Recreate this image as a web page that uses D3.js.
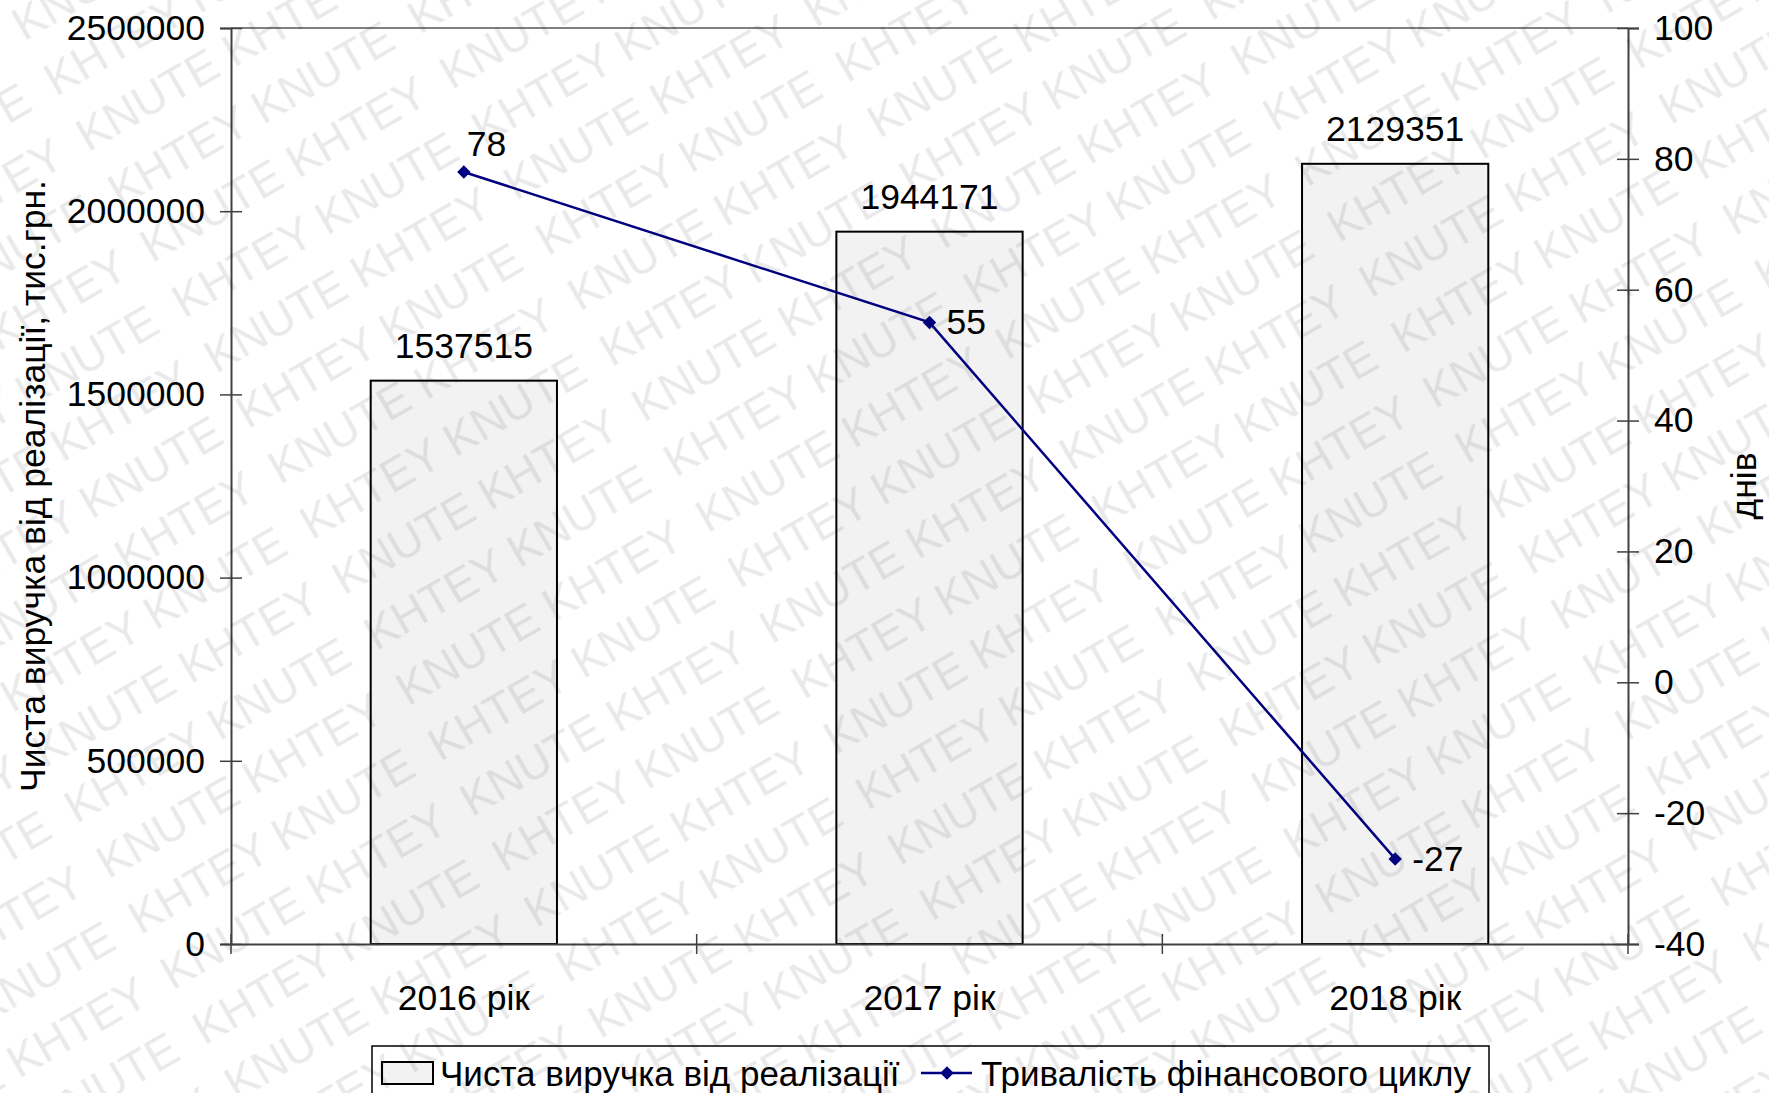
<!DOCTYPE html>
<html>
<head>
<meta charset="utf-8">
<script src="https://cdn.jsdelivr.net/npm/d3@7"></script>
<style>
html,body{margin:0;padding:0;background:#fff;}
svg{display:block;font-family:"Liberation Sans",Arial,sans-serif;}
</style>
</head>
<body>
<svg id="chart" width="1769" height="1093"></svg>
<script>
const categories = ["2016 рік", "2017 рік", "2018 рік"];
const revenue = [1537515, 1944171, 2129351];
const cycleDays = [78, 55, -27];
const leftTicks = [0, 500000, 1000000, 1500000, 2000000, 2500000];
const rightTicks = [-40, -20, 0, 20, 40, 60, 80, 100];
const seriesNames = ["Чиста виручка від реалізації", "Тривалість фінансового циклу"];
const leftTitle = "Чиста виручка від реалізації, тис.грн.";
const rightTitle = "днів";
const watermarkWords = ["KNUTE", "KHTEY"];

const W = 1769, H = 1093;
const m = {left: 231, right: 1628, top: 28, bottom: 944};
const svg = d3.select("#chart");
const FS = 35.5;
const fmt = d => String(d);

const x = d3.scaleBand().domain(categories).range([m.left, m.right]).paddingInner(0).paddingOuter(0);
const yL = d3.scaleLinear().domain([0, 2500000]).range([m.bottom, m.top]);
const yR = d3.scaleLinear().domain([-40, 100]).range([m.bottom, m.top]);

// top border
svg.append("line").attr("x1", m.left).attr("x2", m.right).attr("y1", m.top).attr("y2", m.top)
  .attr("stroke", "#808080").attr("stroke-width", 2);

// bars
const bw = x.bandwidth();
svg.append("g").selectAll("rect").data(revenue).join("rect")
  .attr("x", (d, i) => x(categories[i]) + bw * 0.3)
  .attr("width", bw * 0.4)
  .attr("y", d => yL(d))
  .attr("height", d => yL(0) - yL(d))
  .attr("fill", "#f2f2f2").attr("stroke", "#000").attr("stroke-width", 2);

svg.append("g").selectAll("text").data(revenue).join("text")
  .attr("x", (d, i) => x(categories[i]) + bw / 2)
  .attr("y", d => yL(d) - 23)
  .attr("text-anchor", "middle").attr("font-size", FS).attr("fill", "#000")
  .text(fmt);

// axes
const axL = svg.append("g").attr("transform", `translate(${m.left},0)`)
  .call(d3.axisLeft(yL).tickValues(leftTicks).tickFormat(fmt).tickSize(11).tickPadding(15));
const axR = svg.append("g").attr("transform", `translate(${m.right},0)`)
  .call(d3.axisRight(yR).tickValues(rightTicks).tickFormat(fmt).tickSize(11).tickPadding(15));
const axB = svg.append("g").attr("transform", `translate(0,${m.bottom})`)
  .call(d3.axisBottom(x).tickSize(0).tickPadding(41));
[axL, axR, axB].forEach(a => {
  a.select(".domain").attr("stroke", "#404040").attr("stroke-width", 2);
  a.selectAll(".tick line").attr("stroke", "#404040").attr("stroke-width", 1.5);
  a.selectAll(".tick text").attr("font-size", FS).attr("fill", "#000")
    .attr("font-family", "Liberation Sans, Arial, sans-serif");
});
axL.selectAll(".tick line").attr("x1", 11);
axR.selectAll(".tick line").attr("x1", -11);
// category separator ticks
const sepX = categories.map(c => x(c)).concat([m.right]);
svg.append("g").selectAll("line").data(sepX).join("line")
  .attr("x1", d => d).attr("x2", d => d)
  .attr("y1", m.bottom - 10).attr("y2", m.bottom + 10)
  .attr("stroke", "#404040").attr("stroke-width", 1.5);

// line series
const pts = cycleDays.map((v, i) => [x(categories[i]) + bw / 2, yR(v)]);
svg.append("path").attr("d", d3.line()(pts))
  .attr("fill", "none").attr("stroke", "#000080").attr("stroke-width", 2.5);
const diamond = d3.symbol().type(d3.symbolSquare).size(90);
svg.append("g").selectAll("path").data(pts).join("path")
  .attr("transform", d => `translate(${d[0]},${d[1]}) rotate(45)`)
  .attr("d", diamond).attr("fill", "#000080");
svg.append("g").selectAll("text").data(cycleDays).join("text")
  .attr("x", (d, i) => pts[i][0] + (i === 0 ? 3 : 17))
  .attr("y", (d, i) => pts[i][1] + (i === 0 ? -16 : 12))
  .attr("font-size", FS).attr("fill", "#000")
  .text(fmt);

// axis titles
svg.append("text")
  .attr("transform", `translate(45,${(m.top + m.bottom) / 2}) rotate(-90)`)
  .attr("text-anchor", "middle").attr("font-size", FS).attr("fill", "#000")
  .text(leftTitle);
svg.append("text")
  .attr("transform", `translate(1756,${(m.top + m.bottom) / 2}) rotate(-90)`)
  .attr("text-anchor", "middle").attr("font-size", FS).attr("fill", "#000")
  .text(rightTitle);

// legend
const LFS = 35;
const lg = svg.append("g");
lg.append("rect").attr("x", 372).attr("y", 1046).attr("width", 1117).attr("height", 70)
  .attr("fill", "#fff").attr("stroke", "#000").attr("stroke-width", 1.5);
lg.append("rect").attr("x", 382).attr("y", 1062).attr("width", 51).attr("height", 22)
  .attr("fill", "#f2f2f2").attr("stroke", "#000").attr("stroke-width", 2);
lg.append("text").attr("x", 440).attr("y", 1086).attr("font-size", LFS).attr("fill", "#000").text(seriesNames[0]);
lg.append("line").attr("x1", 921).attr("x2", 972).attr("y1", 1073).attr("y2", 1073)
  .attr("stroke", "#000080").attr("stroke-width", 2.5);
lg.append("path").attr("transform", "translate(947,1073) rotate(45)").attr("d", diamond).attr("fill", "#000080");
lg.append("text").attr("x", 981).attr("y", 1086).attr("font-size", LFS).attr("fill", "#000").text(seriesNames[1]);

// watermark as a repeating pattern overlay
const WFS = 46, ROW = 64;
const defs = svg.append("defs");
const pat = defs.append("pattern").attr("id", "wm").attr("patternUnits", "userSpaceOnUse")
  .attr("patternTransform", "rotate(-30)");
const t1 = pat.append("text").attr("x", 0).attr("y", ROW * 0.75)
  .attr("font-size", WFS).attr("fill", "#000").attr("fill-opacity", 0.085)
  .text(watermarkWords.join(" ") + " ");
const t2 = pat.append("text").attr("x", 0).attr("y", ROW * 1.75)
  .attr("font-size", WFS).attr("fill", "#000").attr("fill-opacity", 0.085)
  .text(watermarkWords.slice().reverse().join(" ") + " ");
// measure tile width using a temporary text
const tmp = svg.append("text").attr("font-size", WFS).attr("xml:space", "preserve")
  .style("white-space", "pre").text(watermarkWords.join(" ") + " ");
const tw = tmp.node().getComputedTextLength() + 12;
tmp.remove();
pat.attr("width", tw).attr("height", ROW * 2);
svg.append("rect").attr("x", 0).attr("y", 0).attr("width", W).attr("height", H)
  .attr("fill", "url(#wm)").attr("pointer-events", "none");
</script>
</body>
</html>
